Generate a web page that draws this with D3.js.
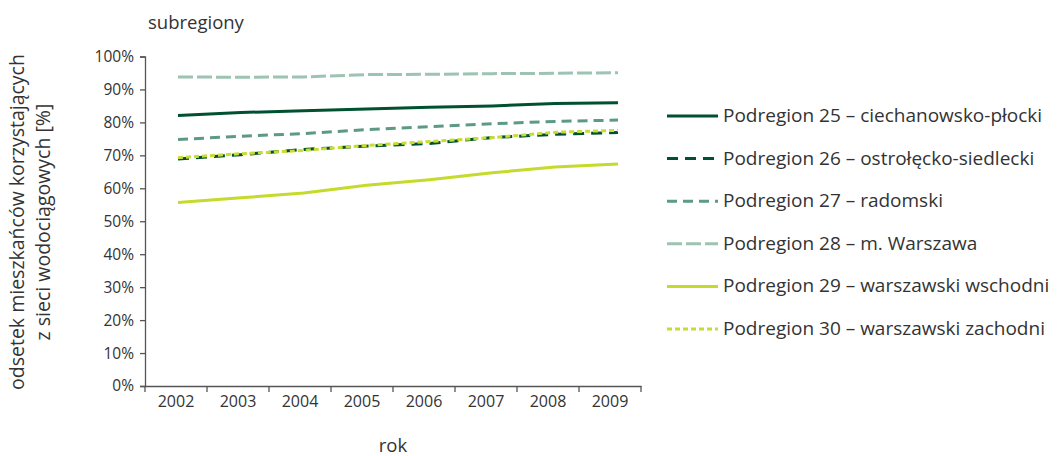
<!DOCTYPE html>
<html><head><meta charset="utf-8">
<script src="https://cdn.jsdelivr.net/npm/d3@7"></script>
<style>
body{margin:0;background:#fff;}
svg text{font-family:"Open Sans", Lato, sans-serif;fill:#333;}
</style></head>
<body><svg id="c" width="1063" height="456"></svg>
<script>
const years = ["2002","2003","2004","2005","2006","2007","2008","2009"];
const yTicks = [0,10,20,30,40,50,60,70,80,90,100];
const seriesNames = [
  "Podregion 25 – ciechanowsko-płocki",
  "Podregion 26 – ostrołęcko-siedlecki",
  "Podregion 27 – radomski",
  "Podregion 28 – m. Warszawa",
  "Podregion 29 – warszawski wschodni",
  "Podregion 30 – warszawski zachodni"
];
const s25 = [82.1, 83.0, 83.5, 84.1, 84.6, 85.0, 85.7, 86.0];
const s26 = [68.9, 70.2, 71.8, 72.8, 73.6, 75.4, 76.4, 76.9];
const s27 = [74.8, 75.8, 76.6, 77.8, 78.7, 79.6, 80.3, 80.7];
const s28 = [93.8, 93.7, 93.8, 94.5, 94.6, 94.8, 94.9, 95.1];
const s29 = [55.7, 57.1, 58.6, 60.9, 62.6, 64.7, 66.5, 67.4];
const s30 = [69.3, 70.5, 71.5, 73.0, 74.2, 75.4, 77.0, 77.6];
const seriesValues = [s25, s26, s27, s28, s29, s30];
const colors = ["#00512f", "#00512f", "#5c9a82", "#9dc3b3", "#c5da2a", "#c9dc30"];
const dashes = [null, "11,7", "10,6", "15,4", null, "5,3"];

const svg = d3.select("#c");
const x0 = 145, x1 = 641, yTop = 56.5, yBot = 386;
const xBand = d3.scaleBand().domain(years).range([x0, x1]);
const xPt = d3.scalePoint().domain(years).range([178, 618]);
const y = d3.scaleLinear().domain([0, 100]).range([yBot, yTop]);

// y axis
const ya = svg.append("g").attr("transform", `translate(${x0},0)`)
  .call(d3.axisLeft(y).tickValues(yTicks).tickSize(5).tickPadding(6).tickFormat(d => d + "%"));
ya.selectAll("path,line").attr("stroke", "#555").attr("stroke-width", 1.3);
ya.selectAll("text").style("font-size", "15.5px").attr("fill", "#333");

// x axis
const xa = svg.append("g").attr("transform", `translate(0,${yBot})`)
  .call(d3.axisBottom(xBand).tickSize(0).tickPadding(10).tickSizeOuter(0));
xa.select("path").attr("stroke", "#555").attr("stroke-width", 1.3);
xa.selectAll("text").style("font-size", "16px").attr("fill", "#333");
const bounds = years.map(d => xBand(d)).concat([x1]);
xa.selectAll("line.bt").data(bounds).enter().append("line").attr("class", "bt")
  .attr("x1", d => d).attr("x2", d => d).attr("y1", 0).attr("y2", 6)
  .attr("stroke", "#555").attr("stroke-width", 1.3);

// lines
const line = d3.line().x((d, i) => xPt(years[i])).y(d => y(d));
seriesValues.forEach((vals, k) => {
  svg.append("path").datum(vals).attr("d", line)
    .attr("fill", "none").attr("stroke", colors[k]).attr("stroke-width", 3)
    .attr("stroke-dasharray", dashes[k]);
});

// legend
const lg = svg.append("g");
seriesNames.forEach((name, k) => {
  const yy = 116 + k * 42.6;
  lg.append("line").attr("x1", 667).attr("x2", 718).attr("y1", yy).attr("y2", yy)
    .attr("stroke", colors[k]).attr("stroke-width", 3).attr("stroke-dasharray", dashes[k]);
  lg.append("text").attr("x", 723).attr("y", yy + 6).style("font-size", "19px").text(name);
});

// titles
svg.append("text").attr("x", 148).attr("y", 29).style("font-size", "18.5px").text("subregiony");
svg.append("text").attr("x", 393).attr("y", 452).attr("text-anchor", "middle").style("font-size", "18.5px").text("rok");
const yl = svg.append("text").attr("transform", "translate(0,222) rotate(-90)").attr("text-anchor", "middle").style("font-size", "19.5px");
yl.append("tspan").attr("x", 0).attr("y", 24).text("odsetek mieszkańców korzystających");
yl.append("tspan").attr("x", 0).attr("y", 50).text("z sieci wodociągowych [%]");
</script></body></html>
